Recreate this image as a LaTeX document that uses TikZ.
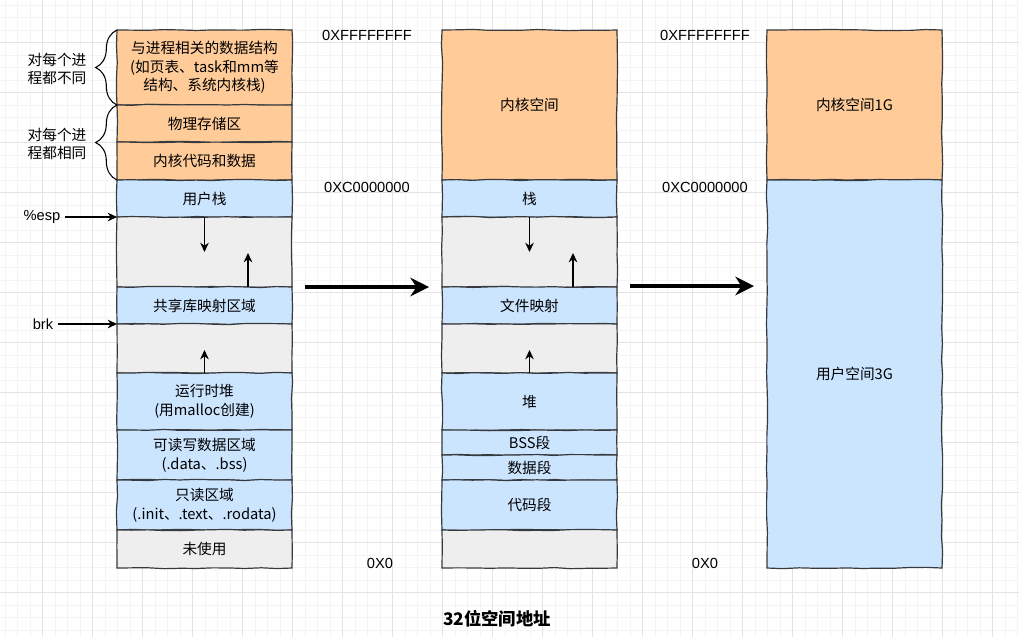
\documentclass[tikz,border=0pt]{standalone}
\usepackage{fontspec}
\setmainfont{Noto Sans CJK SC}
\newfontfamily\latinfont{Liberation Sans}
\usepackage{tikz}
\usetikzlibrary{arrows.meta}
\usetikzlibrary{decorations.pathmorphing}
\usetikzlibrary{decorations.pathreplacing}
\usepackage{xcolor}
\definecolor{kernfill}{HTML}{FFCC99}
\definecolor{userfill}{HTML}{CCE5FF}
\definecolor{gapfill}{HTML}{EEEEEE}
\definecolor{edge}{HTML}{36393D}
\definecolor{gridminor}{HTML}{F4F4F4}
\definecolor{gridmajor}{HTML}{E3E3E3}

\begin{document}
\begin{tikzpicture}[x=0.75pt,y=-0.75pt,
  seg/.style={draw=edge, line width=0.9pt, anchor=north west,
    minimum width=131.25pt, inner sep=0pt, outer sep=0pt, align=center,
    font=\fontsize{11}{14}\selectfont, decorate,
    decoration={random steps, segment length=12pt, amplitude=0.5pt}},
  addr/.style={font=\latinfont\fontsize{11}{13}\selectfont},
  side/.style={font=\fontsize{11}{14}\selectfont, align=center},
  ptr/.style={-{Stealth[length=7pt,width=6.5pt]}, line width=0.9pt},
  bigptr/.style={-{Stealth[length=14pt,width=14pt]}, line width=3pt},
  curly/.style={decorate, decoration={brace, amplitude=16pt}, line width=0.8pt}]

  % Background grid
  \useasboundingbox (0,0) rectangle (1019,637);
  \fill[white] (0,0) rectangle (1019,637);
  \foreach \g in {5,17.5,...,1019} \draw[gridminor, line width=0.6pt] (\g,0) -- (\g,637);
  \foreach \g in {5,17.5,...,637} \draw[gridminor, line width=0.6pt] (0,\g) -- (1019,\g);
  \foreach \g in {42.5,92.5,...,1019} \draw[gridmajor, line width=0.6pt] (\g,0) -- (\g,637);
  \foreach \g in {42.5,92.5,...,637} \draw[gridmajor, line width=0.6pt] (0,\g) -- (1019,\g);

  % Process address space
  \foreach \nm/\t/\b/\col/\txt in {
      proc/30/105/kernfill/{与进程相关的数据结构\\ (如页表、task和mm等\\结构、系统内核栈)},
      phys/105/142/kernfill/{物理存储区},
      kcode/142/180/kernfill/{内核代码和数据},
      ustack/180/217/userfill/{用户栈},
      gapa/217/287/gapfill/{},
      shlib/287/324/userfill/{共享库映射区域},
      gapb/324/373/gapfill/{},
      heap/373/430/userfill/{运行时堆\\(用malloc创建)},
      rwdata/430/480/userfill/{可读写数据区域\\(.data、.bss)},
      rodata/480/530/userfill/{只读区域\\(.init、.text、.rodata)},
      unused/530/568/gapfill/{未使用}} {
    \node[seg, fill=\col, minimum height={(\b-\t)*0.75pt}] (\nm) at (117,\t) {\txt};
  }

  % Segment view
  \foreach \nm/\t/\b/\col/\txt in {
      kspace/30/180/kernfill/{内核空间},
      stack/180/217/userfill/{栈},
      gapc/217/287/gapfill/{},
      fmap/287/324/userfill/{文件映射},
      gapd/324/373/gapfill/{},
      heapb/373/430/userfill/{堆},
      bss/430/455/userfill/{BSS段},
      data/455/480/userfill/{数据段},
      code/480/530/userfill/{代码段},
      rest/530/568/gapfill/{}} {
    \node[seg, fill=\col, minimum height={(\b-\t)*0.75pt}] (\nm) at (442,\t) {\txt};
  }

  % Kernel / user split
  \node[seg, fill=kernfill, minimum height=112.5pt] (kern) at (767,30) {内核空间1G};
  \node[seg, fill=userfill, minimum height=291pt] (user) at (767,180) {用户空间3G};

  % Braces
  \draw[curly] (proc.south west) -- (proc.north west);
  \draw[curly] (kcode.south west) -- (phys.north west);
  \node[side] (diff) at (57,69) {对每个进\\程都不同};
  \node[side] (same) at (57,144) {对每个进\\程都相同};

  % Pointers
  \node[addr] (esp) at (42,217) {\%esp};
  \node[addr] (brk) at (43,324) {brk};
  \draw[ptr] (esp) -- (ustack.south west);
  \draw[ptr] (brk) -- (shlib.south west);

  % Growth arrows
  \coordinate (downa) at (204.5,252);
  \coordinate (upa) at (248,253);
  \coordinate (upb) at (204.5,350);
  \draw[ptr] (ustack.south) -- (downa);
  \draw[ptr] (shlib.north -| upa) -- (upa);
  \draw[ptr] (heap.north) -- (upb);
  \coordinate (downc) at (529.5,252);
  \coordinate (upc) at (573,253);
  \coordinate (upd) at (529.5,350);
  \draw[ptr] (stack.south) -- (downc);
  \draw[ptr] (fmap.north -| upc) -- (upc);
  \draw[ptr] (heapb.north) -- (upd);

  % Addresses
  \node[addr] (hia) at (367,35) {0XFFFFFFFF};
  \node[addr] (mida) at (367,187) {0XC0000000};
  \node[addr] (lowa) at (380,563) {0X0};
  \node[addr] (hib) at (705,35) {0XFFFFFFFF};
  \node[addr] (midb) at (705,187) {0XC0000000};
  \node[addr] (lowb) at (705,563) {0X0};

  % Mapping arrows
  \coordinate (maps) at (305,287);
  \coordinate (mape) at (429,287);
  \coordinate (splits) at (630,286);
  \coordinate (splite) at (754,286);
  \draw[bigptr] (maps) -- (mape);
  \draw[bigptr] (splits) -- (splite);

  \node[font=\bfseries\fontsize{13}{15}\selectfont] (title) at (497,619) {32位空间地址};
\end{tikzpicture}
\end{document}
